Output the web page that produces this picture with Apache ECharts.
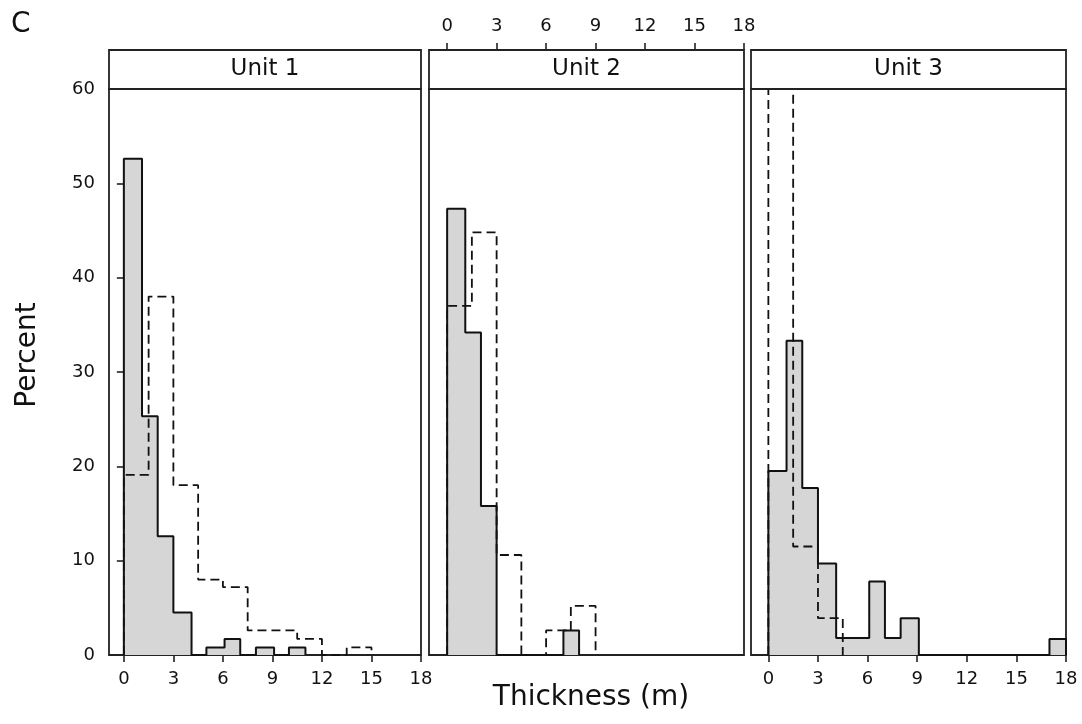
<!DOCTYPE html>
<html>
<head>
<meta charset="utf-8">
<script src="https://cdn.jsdelivr.net/npm/echarts@6/dist/echarts.min.js"></script>
<style>
  html, body { margin: 0; padding: 0; background: #fff; }
  #chart { width: 1082px; height: 724px; }
</style>
</head>
<body>
<div id="chart"></div>
<script>
// bin edges (m)
var greyEdges = [0, 1.1, 2.05, 3, 4.1, 5, 6.1, 7.05, 8, 9.1, 10, 11, 12, 13, 14, 15, 16, 17, 18];
var dashEdges = [0, 1.5, 3, 4.5, 6, 7.5, 9, 10.5, 12, 13.5, 15, 16.5, 18];

// percent per bin, grey filled histogram
var unit1Grey = [52.6, 25.3, 12.6, 4.5, 0, 0.8, 1.7, 0, 0.8, 0, 0.8, 0, 0, 0, 0, 0, 0, 0];
var unit2Grey = [47.3, 34.2, 15.8, 0, 0, 0, 0, 2.6, 0, 0, 0, 0, 0, 0, 0, 0, 0, 0];
var unit3Grey = [19.5, 33.3, 17.7, 9.7, 1.8, 1.8, 7.8, 1.8, 3.9, 0, 0, 0, 0, 0, 0, 0, 0, 1.7];

// percent per bin, dashed outline histogram (unit 3 first bin runs off the top)
var unit1Dash = [19.1, 38.0, 18.0, 8.0, 7.2, 2.6, 2.6, 1.7, 0, 0.8, 0, 0];
var unit2Dash = [37.0, 44.8, 10.6, 0, 2.6, 5.2, 0, 0, 0, 0, 0, 0];
var unit3Dash = [64, 11.5, 3.9, 0, 0, 0, 0, 0, 0, 0, 0, 0];

var unitNames = ['Unit 1', 'Unit 2', 'Unit 3'];
var xTicks = [0, 3, 6, 9, 12, 15, 18];

var FONT = 'DejaVu Sans';

// turn bins into step points for a line series (step: 'end')
function stepPoints(edges, vals) {
    var last = vals.length - 1;
    while (last > 0 && vals[last] === 0) last--;
    var pts = [[edges[0], 0]];
    for (var i = 0; i <= last; i++) {
        pts.push([edges[i], vals[i]]);
    }
    pts.push([edges[last + 1], 0]);
    return pts;
}

var panels = [
    { left: 109, width: 312, min: -0.9, grey: unit1Grey, dash: unit1Dash, bottomLabels: true },
    { left: 429, width: 315, min: -1.1, grey: unit2Grey, dash: unit2Dash, bottomLabels: false },
    { left: 751, width: 315, min: -1.05, grey: unit3Grey, dash: unit3Dash, bottomLabels: true }
];
var gridTop = 89, gridHeight = 566, headH = 39;

var grids = [], xAxes = [], yAxes = [], series = [], graphics = [];

var tickStyle = { color: '#222', width: 1.6 };

panels.forEach(function (p, i) {
    grids.push({
        left: p.left, top: gridTop, width: p.width, height: gridHeight,
        show: true, borderColor: '#222', borderWidth: 1.8, backgroundColor: '#fff'
    });
    xAxes.push({
        gridIndex: i, type: 'value', min: p.min, max: 18, position: 'bottom',
        axisLine: { show: false },
        axisTick: { show: p.bottomLabels, length: 7, customValues: xTicks, lineStyle: tickStyle },
        axisLabel: { show: p.bottomLabels, customValues: xTicks, margin: 15,
            fontFamily: FONT, fontSize: 18, color: '#111' },
        splitLine: { show: false }
    });
    yAxes.push({
        gridIndex: i, type: 'value', min: 0, max: 60, interval: 10,
        axisLine: { show: false },
        axisTick: { show: i === 0, length: 7, lineStyle: tickStyle },
        axisLabel: { show: i === 0, margin: 14, fontFamily: FONT, fontSize: 18, color: '#111' },
        splitLine: { show: false }
    });
    series.push({
        type: 'line', xAxisIndex: i, yAxisIndex: i,
        data: stepPoints(greyEdges, p.grey), step: 'end',
        showSymbol: false, symbol: 'none', clip: true,
        lineStyle: { color: '#111', width: 2 },
        areaStyle: { color: '#d6d6d6', opacity: 1 },
        z: 3
    });
    series.push({
        type: 'line', xAxisIndex: i, yAxisIndex: i,
        data: stepPoints(dashEdges, p.dash), step: 'end',
        showSymbol: false, symbol: 'none', clip: true,
        lineStyle: { color: '#111', width: 1.8, type: [9, 5] },
        z: 4
    });
    // header strip with panel name
    graphics.push({
        type: 'rect', shape: { x: p.left, y: gridTop - headH, width: p.width, height: headH },
        style: { fill: '#fff', stroke: '#222', lineWidth: 1.8 }, z: 10
    });
    graphics.push({
        type: 'text', x: p.left + p.width / 2, y: gridTop - headH / 2,
        style: { text: unitNames[i], fontFamily: FONT, fontSize: 23, fill: '#111',
            textAlign: 'center', textVerticalAlign: 'middle' }, z: 11
    });
});

// top scale of unit 2 sits on the header strip: its own grid spanning 0..18 only
var p2 = panels[1];
var pxPerUnit = p2.width / (18 - p2.min);
grids.push({
    left: p2.left - p2.min * pxPerUnit, top: 20, width: 18 * pxPerUnit,
    height: gridTop - headH - 20, show: false
});
xAxes.push({
    gridIndex: 3, type: 'value', min: 0, max: 18, interval: 3, position: 'bottom',
    axisLine: { show: false },
    axisTick: { show: true, length: 7, inside: true, lineStyle: tickStyle },
    axisLabel: { show: true, inside: true, margin: 15, fontFamily: FONT, fontSize: 18, color: '#111',
        verticalAlign: 'bottom' },
    splitLine: { show: false }
});
yAxes.push({ gridIndex: 3, type: 'value', min: 0, max: 1, show: false });

graphics.push({
    type: 'text', x: 11, y: 11,
    style: { text: 'C', fontFamily: FONT, fontSize: 28, fill: '#111' }
});
graphics.push({
    type: 'text', x: 28, y: 355, rotation: Math.PI / 2,
    style: { text: 'Percent', fontFamily: FONT, fontSize: 28, fill: '#111',
        textAlign: 'center', textVerticalAlign: 'middle' }
});
graphics.push({
    type: 'text', x: 591, y: 698,
    style: { text: 'Thickness (m)', fontFamily: FONT, fontSize: 28, fill: '#111',
        textAlign: 'center', textVerticalAlign: 'middle' }
});

var chart = echarts.init(document.getElementById('chart'), null, { renderer: 'canvas' });
chart.setOption({
    animation: false,
    backgroundColor: '#fff',
    grid: grids,
    xAxis: xAxes,
    yAxis: yAxes,
    series: series,
    graphic: graphics
});
</script>
</body>
</html>
